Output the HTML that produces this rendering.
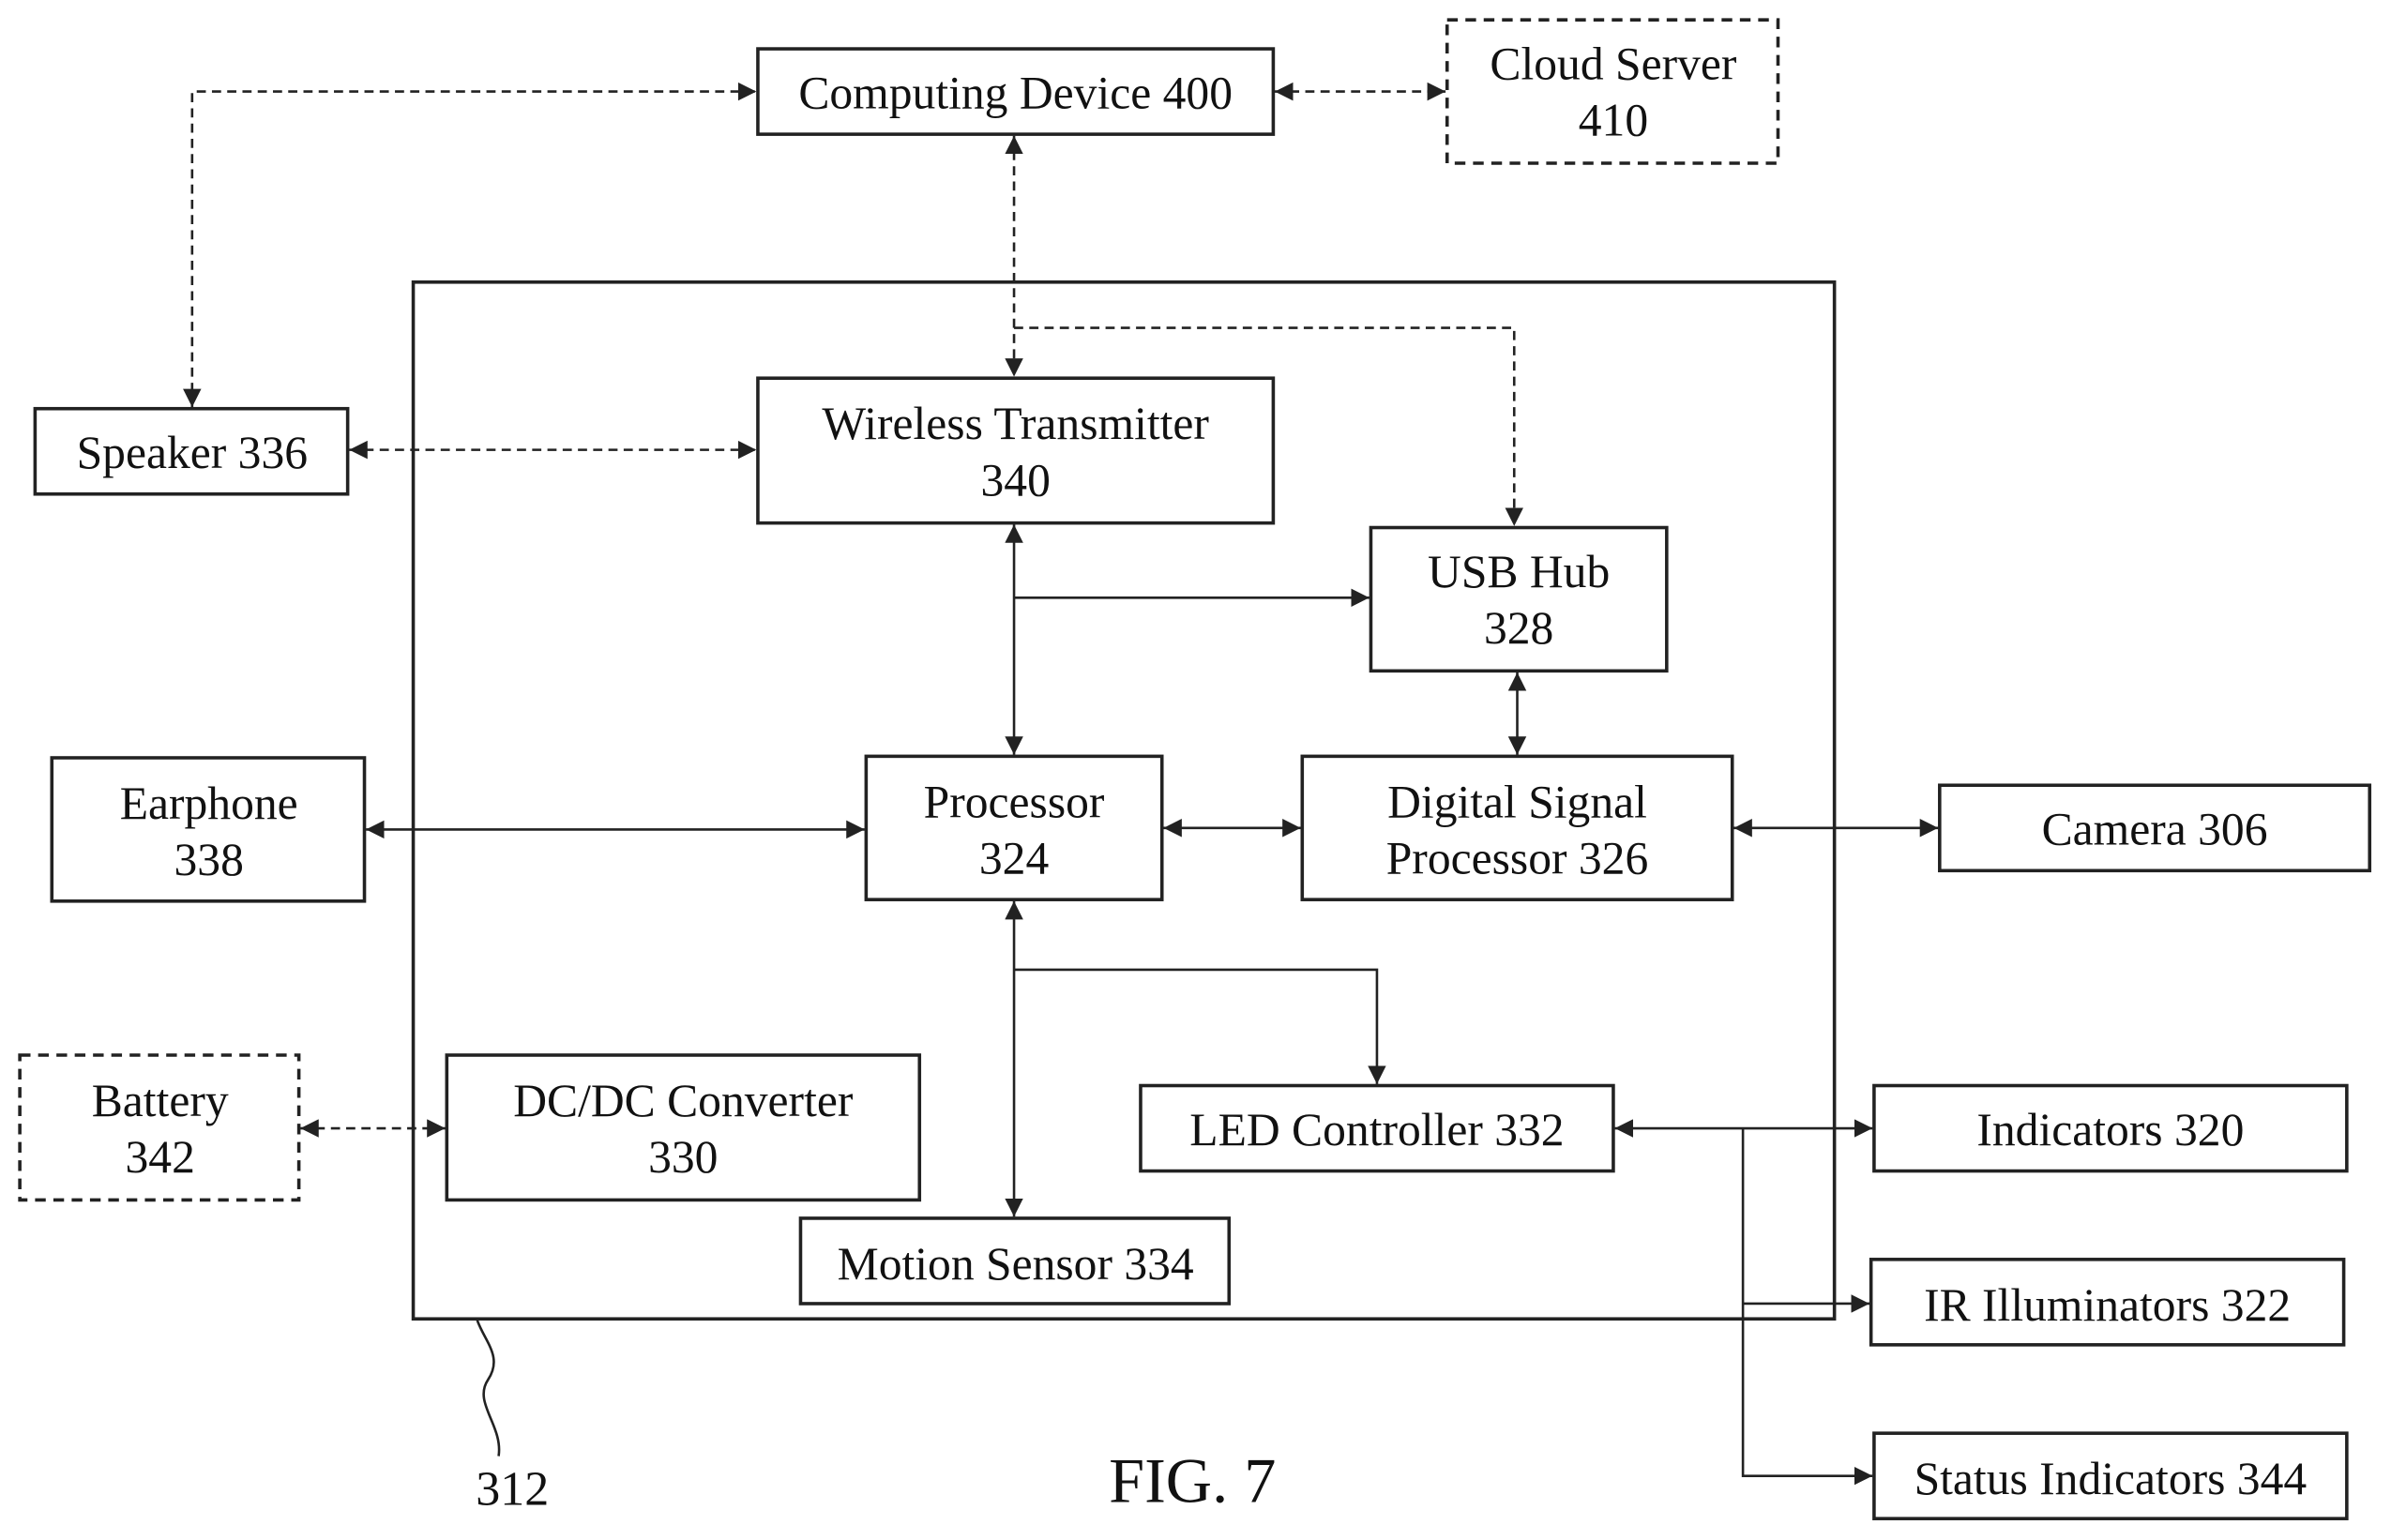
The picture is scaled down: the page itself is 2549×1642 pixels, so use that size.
<!DOCTYPE html>
<html><head><style>html,body{margin:0;padding:0;background:#fff}svg{display:block}</style></head>
<body>
<svg width="2549" height="1642" viewBox="0 0 1568 1010" xmlns="http://www.w3.org/2000/svg" font-family="Liberation Serif, serif" font-size="30.5" text-anchor="middle">
<defs>
<marker id="a" viewBox="0 0 10 10" refX="10" refY="5" markerWidth="12" markerHeight="12" markerUnits="userSpaceOnUse" orient="auto-start-reverse"><path d="M0,0L10,5L0,10z" fill="#222"/></marker>
</defs>
<g fill="none" stroke="#222" stroke-width="2.2">
<rect x="271" y="185" width="932" height="680"/>
<rect x="497" y="32" width="338" height="56"/>
<rect x="949" y="13" width="217" height="94" stroke-dasharray="7,5"/>
<rect x="23" y="268" width="205" height="56"/>
<rect x="497" y="248" width="338" height="95"/>
<rect x="899" y="346" width="194" height="94"/>
<rect x="34" y="497" width="205" height="94"/>
<rect x="568" y="496" width="194" height="94"/>
<rect x="854" y="496" width="282" height="94"/>
<rect x="1272" y="515" width="282" height="56"/>
<rect x="13" y="692" width="183" height="95" stroke-dasharray="7,5"/>
<rect x="293" y="692" width="310" height="95"/>
<rect x="748" y="712" width="310" height="56"/>
<rect x="525" y="799" width="281" height="56"/>
<rect x="1229" y="712" width="310" height="56"/>
<rect x="1227" y="826" width="310" height="56"/>
<rect x="1229" y="940" width="310" height="56"/>
</g>
<g fill="none" stroke="#222" stroke-width="1.6" stroke-dasharray="6,4">
<path d="M126,267V60H496" marker-start="url(#a)" marker-end="url(#a)"/>
<path d="M836,60H948" marker-start="url(#a)" marker-end="url(#a)"/>
<path d="M665,89V247" marker-start="url(#a)" marker-end="url(#a)"/>
<path d="M665,215H993V345" marker-end="url(#a)"/>
<path d="M229,295H496" marker-start="url(#a)" marker-end="url(#a)"/>
<path d="M197,740H292" marker-start="url(#a)" marker-end="url(#a)"/>
</g>
<g fill="none" stroke="#222" stroke-width="1.6">
<path d="M665,344V495" marker-start="url(#a)" marker-end="url(#a)"/>
<path d="M665,392H898" marker-end="url(#a)"/>
<path d="M995,441V495" marker-start="url(#a)" marker-end="url(#a)"/>
<path d="M240,544H567" marker-start="url(#a)" marker-end="url(#a)"/>
<path d="M763,543H853" marker-start="url(#a)" marker-end="url(#a)"/>
<path d="M1137,543H1271" marker-start="url(#a)" marker-end="url(#a)"/>
<path d="M665,591V798" marker-start="url(#a)" marker-end="url(#a)"/>
<path d="M665,636H903V711" marker-end="url(#a)"/>
<path d="M1059,740H1228" marker-start="url(#a)" marker-end="url(#a)"/>
<path d="M1143,740V968H1228" marker-end="url(#a)"/>
<path d="M1143,855H1226" marker-end="url(#a)"/>
<path d="M313,866C318,880 330,890 320,905C310,920 330,935 327,955"/>
</g>
<g fill="#111">
<text x="666" y="71">Computing Device 400</text>
<text x="1058" y="52">Cloud Server</text><text x="1058" y="89">410</text>
<text x="126" y="307">Speaker 336</text>
<text x="666" y="288">Wireless Transmitter</text><text x="666" y="325">340</text>
<text x="996" y="385">USB Hub</text><text x="996" y="422">328</text>
<text x="137" y="537">Earphone</text><text x="137" y="574">338</text>
<text x="665" y="536">Processor</text><text x="665" y="573">324</text>
<text x="995" y="536">Digital Signal</text><text x="995" y="573">Processor 326</text>
<text x="1413" y="554">Camera 306</text>
<text x="105" y="732">Battery</text><text x="105" y="769">342</text>
<text x="448" y="732">DC/DC Converter</text><text x="448" y="769">330</text>
<text x="903" y="751">LED Controller 332</text>
<text x="666" y="839">Motion Sensor 334</text>
<text x="1384" y="751">Indicators 320</text>
<text x="1382" y="866">IR Illuminators 322</text>
<text x="1384" y="980">Status Indicators 344</text>
<text x="336" y="987" font-size="32">312</text>
<text x="782" y="985" font-size="42">FIG. 7</text>
</g>
</svg>
</body></html>
